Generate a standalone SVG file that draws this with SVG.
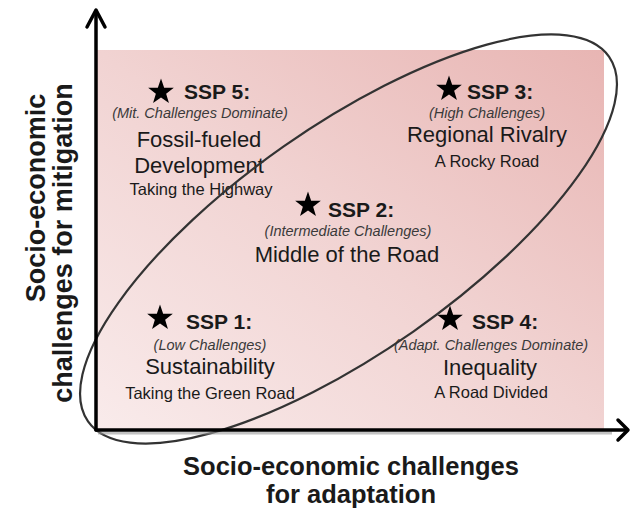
<svg xmlns="http://www.w3.org/2000/svg" width="631" height="512" viewBox="0 0 631 512">
  <style>
    text { font-family: "Liberation Sans", Arial, sans-serif; fill: #1a1a1a; }
    .title { font-size: 21px; font-weight: bold; }
    .sub { font-size: 14.5px; font-style: italic; fill: #3a3a3a; text-anchor: middle; }
    .name { font-size: 22px; text-anchor: middle; }
    .tag { font-size: 16.5px; text-anchor: middle; }
    .axis-label { font-size: 25.5px; font-weight: bold; text-anchor: middle; }
    .axis { fill: none; stroke: #000; stroke-width: 3.5; stroke-linecap: round; stroke-linejoin: round; }
    .axis-shadow { fill: none; stroke: #9a9a9a; stroke-width: 3; opacity: 0.6; }
    .star { fill: #000; }
  </style>
  <defs>
    <linearGradient id="field" x1="0" y1="1" x2="1" y2="0">
      <stop offset="0" stop-color="#f9ebeb"/>
      <stop offset="0.5" stop-color="#f1d3d2"/>
      <stop offset="1" stop-color="#e8b5b3"/>
    </linearGradient>
    <!-- five-pointed star, outer radius 13.5, centred on the origin -->
    <polygon id="star" class="star" points="0,-13.5 3.17,-4.37 12.84,-4.17 5.14,1.67 7.94,10.92 0,5.4 -7.94,10.92 -5.14,1.67 -12.84,-4.17 -3.17,-4.37"/>
  </defs>

  <rect width="631" height="512" fill="#fff"/>

  <!-- shaded challenge space -->
  <rect x="96" y="50" width="508" height="380" fill="url(#field)"/>

  <!-- SSP nodes -->
  <g id="ssp5">
    <use href="#star" x="161" y="92"/>
    <text class="title" x="184" y="99">SSP 5:</text>
    <text class="sub" x="200" y="118">(Mit. Challenges Dominate)</text>
    <text class="name" x="199" y="147">Fossil-fueled</text>
    <text class="name" x="199" y="173">Development</text>
    <text class="tag" x="201" y="195">Taking the Highway</text>
  </g>

  <g id="ssp3">
    <use href="#star" x="449" y="89"/>
    <text class="title" x="467" y="99">SSP 3:</text>
    <text class="sub" x="487" y="118">(High Challenges)</text>
    <text class="name" x="487" y="142">Regional Rivalry</text>
    <text class="tag" x="487" y="167">A Rocky Road</text>
  </g>

  <g id="ssp2">
    <use href="#star" x="308" y="205"/>
    <text class="title" x="328" y="217">SSP 2:</text>
    <text class="sub" x="348" y="236">(Intermediate Challenges)</text>
    <text class="name" x="347" y="262">Middle of the Road</text>
  </g>

  <g id="ssp1">
    <use href="#star" x="160" y="318"/>
    <text class="title" x="186" y="329">SSP 1:</text>
    <text class="sub" x="210" y="350">(Low Challenges)</text>
    <text class="name" x="210" y="374">Sustainability</text>
    <text class="tag" x="210" y="399">Taking the Green Road</text>
  </g>

  <g id="ssp4">
    <use href="#star" x="450" y="319"/>
    <text class="title" x="472" y="329">SSP 4:</text>
    <text class="sub" x="491" y="350">(Adapt. Challenges Dominate)</text>
    <text class="name" x="490" y="375">Inequality</text>
    <text class="tag" x="491" y="398">A Road Divided</text>
  </g>

  <!-- diagonal band of shared pathways -->
  <g id="diagonal">
    <ellipse cx="348.5" cy="239" rx="318" ry="113" transform="rotate(-35 348.5 239)" fill="none" stroke="#333" stroke-width="2.2"/>
  </g>

  <!-- axes -->
  <g id="connectors">
    <path class="axis-shadow" d="M98 433 H612"/>
    <path class="axis" d="M96 430 V11"/>
    <path class="axis" d="M87 27 L96 10 L105 27"/>
    <path class="axis" d="M96 430 H627"/>
    <path class="axis" d="M618 420 L628 430 L618 440"/>
  </g>

  <!-- axis titles -->
  <g id="x-label">
    <text class="axis-label" x="351" y="475">Socio-economic challenges</text>
    <text class="axis-label" x="351" y="503">for adaptation</text>
  </g>
  <g id="y-label">
    <text class="axis-label" transform="translate(45 198) rotate(-90)" style="font-size:27px">Socio-economic</text>
    <text class="axis-label" transform="translate(72 243) rotate(-90)" style="font-size:27px">challenges for mitigation</text>
  </g>
</svg>
